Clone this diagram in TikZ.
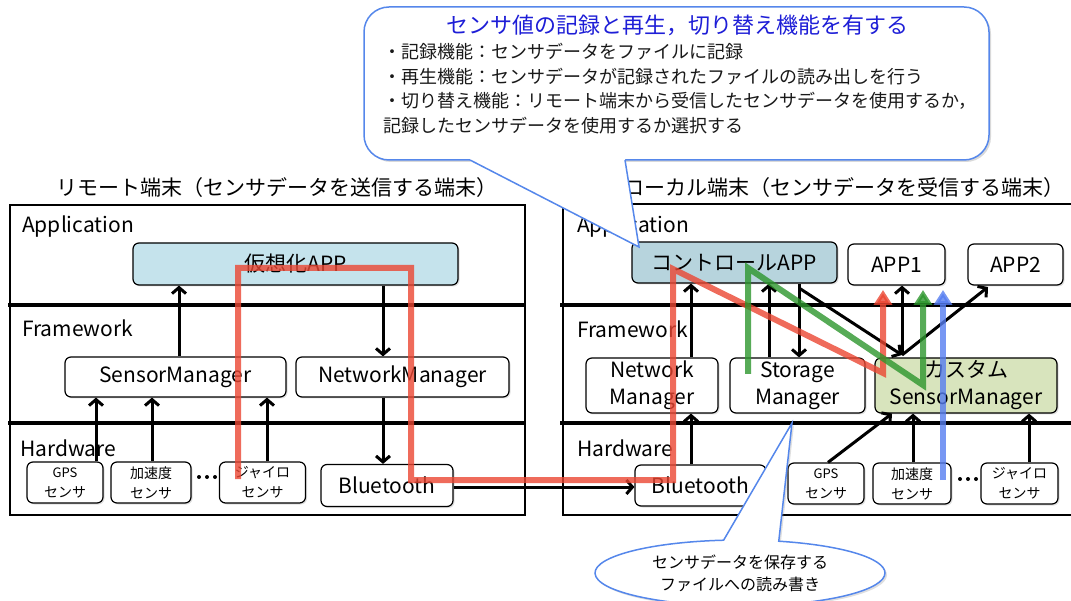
\documentclass[tikz,border=0pt]{standalone}
\usepackage{fontspec}
\setmainfont{Noto Sans CJK JP}
\usetikzlibrary{arrows.meta,shapes.geometric,shapes.callouts,shadows,calc}
\definecolor{appblue}{RGB}{197,227,236}
\definecolor{ctrlblue}{RGB}{183,212,221}
\definecolor{csgreen}{RGB}{216,228,189}
\definecolor{callblue}{RGB}{85,135,235}
\definecolor{titleblue}{RGB}{30,30,215}
\definecolor{flowred}{RGB}{235,70,50}
\definecolor{flowgreen}{RGB}{45,150,45}
\definecolor{flowblue}{RGB}{85,125,240}
\newcommand\fsz[2]{\fontsize{#1}{#2}\selectfont}
\begin{document}
\begin{tikzpicture}[x=1pt,y=-1pt,
  panel/.style={draw=black, line width=1.4pt},
  divline/.style={draw=black, line width=3.2pt},
  box/.style={draw=black, line width=1.2pt, rounded corners=6pt, fill=white, inner sep=0pt, align=center,
    font=\fsz{21}{27}, drop shadow={opacity=0.25,shadow xshift=1.5pt,shadow yshift=-1.5pt}},
  sbox/.style={box, minimum height=41pt, font=\fsz{14}{20}},
  lbl/.style={anchor=west, inner sep=0pt, font=\fsz{21}{25}},
  ttl/.style={inner sep=0pt, font=\fsz{21}{25}},
  arr/.style={line width=3pt, -{Straight Barb[length=6pt,width=14pt]}},
  flow/.style={line width=6pt, opacity=0.8, -{Triangle[length=15pt,width=18pt]}},
  callline/.style={draw=callblue, line width=1.5pt},
  btxt/.style={anchor=west, inner sep=0pt, font=\fsz{18}{22}, text=black!90}
]
\useasboundingbox (0,0) rectangle (1071,601);

% ---------- panels ----------
\draw[panel] (10,205) rectangle (525,515);
\draw[divline] (8,305) -- (524,305);
\draw[divline] (8,423) -- (524,423);
\draw[panel] (563,204) rectangle (1090,515);
\draw[divline] (560,305) -- (1090,305);
\draw[divline] (560,423) -- (1090,423);

\node[ttl] (titleL) at (277,188) {リモート端末（センサデータを送信する端末）};
\node[ttl] (titleR) at (844,188) {ローカル端末（センサデータを受信する端末）};

\node[lbl] (appL) at (22,227) {Application};
\node[lbl] (fwL) at (22,328) {Framework};
\node[lbl] (hwL) at (20,448) {Hardware};
\node[lbl] (appR) at (577,227) {Application};
\node[lbl] (fwR) at (577,329) {Framework};
\node[lbl] (hwR) at (577,448) {Hardware};

% ---------- left boxes ----------
\node[box, fill=appblue, minimum width=325pt, minimum height=42pt] (virt) at (295.5,264) {仮想化APP};
\node[box, minimum width=221pt, minimum height=40pt] (smL) at (175.5,377) {SensorManager};
\node[box, minimum width=213pt, minimum height=40pt] (nmL) at (402.5,377) {NetworkManager};
\node[sbox, minimum width=76pt] (gpsL) at (65,482.5) {{\fsz{13}{20}GPS}\\センサ};
\node[sbox, minimum width=80pt] (accL) at (151,482.5) {加速度\\センサ};
\node[sbox, minimum width=86pt] (gyroL) at (262.5,482.5) {ジャイロ\\センサ};
\node[box, minimum width=132pt, minimum height=42pt] (btL) at (387,485.5) {Bluetooth};
\fill (199,477) circle (2pt) (207,477) circle (2pt) (215,477) circle (2pt);

% ---------- right boxes ----------
\node[box, fill=ctrlblue, minimum width=205pt, minimum height=41pt] (ctrl) at (734.5,262.5) {コントロールAPP};
\node[box, minimum width=97pt, minimum height=41pt] (app1) at (896.5,264.5) {APP1};
\node[box, minimum width=95pt, minimum height=41pt] (app2) at (1015.5,264.5) {APP2};
\node[box, minimum width=132pt, minimum height=55pt] (nmR) at (652,385.5) {Network\\Manager};
\node[box, minimum width=135pt, minimum height=55pt] (stR) at (797.5,385.5) {Storage\\Manager};
\node[box, fill=csgreen, minimum width=182pt, minimum height=55pt] (csR) at (966,385.5) {カスタム\\SensorManager};
\node[box, minimum width=131pt, minimum height=41pt] (btR) at (700.5,485.5) {Bluetooth};
\node[sbox, minimum width=76pt] (gpsR) at (826,483.5) {{\fsz{13}{20}GPS}\\センサ};
\node[sbox, minimum width=78pt] (accR) at (912,483.5) {加速度\\センサ};
\node[sbox, minimum width=77pt] (gyroR) at (1019.5,483.5) {ジャイロ\\センサ};
\fill (960,479) circle (2pt) (968,479) circle (2pt) (976,479) circle (2pt);

% ---------- left arrows ----------
\draw[arr] (smL.north -| 179,0) -- (virt.south -| 179,0);
\draw[arr] (virt.south -| 383,0) -- (nmL.north -| 383,0);
\draw[arr] (nmL.south -| 383,0) -- (btL.north -| 383,0);
\draw[arr] (gpsL.north -| 96,0) -- (smL.south -| 96,0);
\draw[arr] (accL.north -| 152,0) -- (smL.south -| 152,0);
\draw[arr] (gyroL.north -| 267,0) -- (smL.south -| 267,0);
\draw[arr] (btL.east |- 0,487) -- (btR.west |- 0,487);

% ---------- right arrows ----------
\draw[arr] (btR.north -| 691,0) -- (nmR.south -| 691,0);
\draw[arr] (nmR.north -| 691,0) -- (ctrl.south -| 691,0);
\draw[arr] (stR.north -| 769,0) -- (ctrl.south -| 769,0);
\coordinate (cout) at (799,288);
\coordinate (hub) at (902,355);
\coordinate (app2in) at (988,287);
\draw[line width=3pt] (ctrl.south -| cout) -- (cout);
\draw[arr] (cout) -- (stR.north -| cout);
\draw[arr] (cout) -- (hub);
\draw[arr] (hub) -- (app1.south -| hub);
\draw[arr] (hub) -- (app2in);
\draw[arr] (gpsR.north -| 828,0) -- (csR.south -| 892,0);
\draw[arr] (accR.north -| 913,0) -- (csR.south -| 913,0);
\draw[arr] (gyroR.north -| 1029,0) -- (csR.south -| 1029,0);

% ---------- top callout ----------
\node[draw=callblue, line width=1.5pt, fill=white, rounded corners=25pt, minimum width=625pt, minimum height=153pt,
  drop shadow={opacity=0.3,shadow xshift=2pt,shadow yshift=-2pt}] (callout) at (676.5,83.5) {};
\coordinate (calltip) at (639,247);
\fill[white] (470,156) -- (470,161) -- (calltip) -- (625,161) -- (625,156) -- cycle;
\draw[callline] (470,160) -- (calltip) -- (625,160);
\node[inner sep=0pt, font=\fsz{22}{26}, text=titleblue] (calltitle) at (677,25) {センサ値の記録と再生，切り替え機能を有する};
\node[btxt] (cl1) at (383,52) {・記録機能：センサデータをファイルに記録};
\node[btxt] (cl2) at (383,77) {・再生機能：センサデータが記録されたファイルの読み出しを行う};
\node[btxt] (cl3) at (383,101) {・切り替え機能：リモート端末から受信したセンサデータを使用するか，};
\node[btxt] (cl4) at (383,126) {記録したセンサデータを使用するか選択する};

% ---------- bottom callout ----------
\coordinate (sttip) at (792,423);
\node[ellipse callout, draw=callblue, line width=1.5pt, fill=white, minimum width=290pt, minimum height=66pt,
  inner sep=0pt, callout absolute pointer={(sttip)}, callout pointer arc=22, align=center, font=\fsz{16}{22},
  drop shadow={opacity=0.25,shadow xshift=2pt,shadow yshift=-2pt}] (ellcall) at (740,573) {センサデータを保存する\\ファイルへの読み書き};

% ---------- data flows ----------
\coordinate (r1) at (238,479);
\coordinate (r2) at (238,268);
\coordinate (r3) at (411,268);
\coordinate (r4) at (411,480);
\coordinate (r5) at (673,480);
\coordinate (r6) at (673,269);
\coordinate (r7) at (883,373);
\coordinate (r8) at (883,290);
\draw[flow, flowred] (r1) -- (r2) -- (r3) -- (r4) -- (r5) -- (r6) -- (r7) -- (r8);
\coordinate (g1) at (748,374);
\coordinate (g2) at (748,268);
\coordinate (g3) at (923,385);
\coordinate (g4) at (923,290);
\draw[flow, flowgreen] (g1) -- (g2) -- (g3) -- (g4);
\coordinate (b1) at (943,480);
\coordinate (b2) at (943,290);
\draw[flow, flowblue] (b1) -- (b2);
\end{tikzpicture}
\end{document}
